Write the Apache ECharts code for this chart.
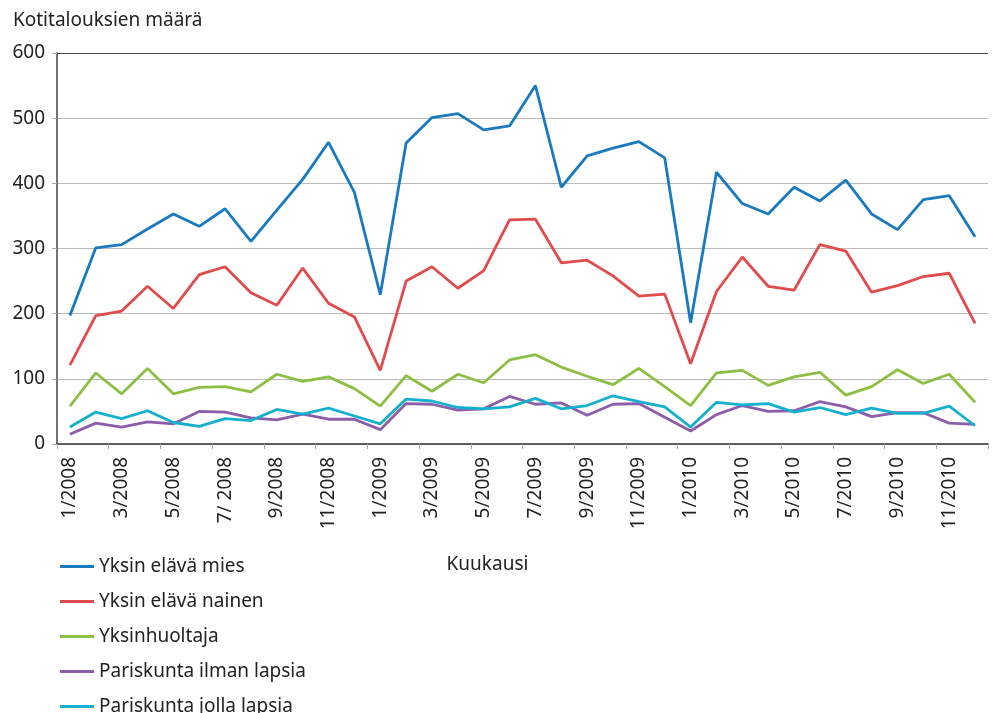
<!DOCTYPE html>
<html lang="fi">
<head>
  <meta charset="utf-8">
  <title>Kotitalouksien määrä</title>
  <style>
    html, body { margin: 0; padding: 0; background: #fff; }
    #chart { width: 992px; height: 713px; }
  </style>
</head>
<body>
  <div id="chart"></div>
  <script src="https://cdn.jsdelivr.net/npm/echarts@6/dist/echarts.min.js"></script>
  <script>
    // kuukaudet 1/2008 - 12/2010
    var months = [
      '1/2008', '2/2008', '3/2008', '4/2008', '5/2008', '6/2008', '7/ 2008', '8/2008', '9/2008', '10/2008', '11/2008', '12/2008',
      '1/2009', '2/2009', '3/2009', '4/2009', '5/2009', '6/2009', '7/2009', '8/2009', '9/2009', '10/2009', '11/2009', '12/2009',
      '1/2010', '2/2010', '3/2010', '4/2010', '5/2010', '6/2010', '7/2010', '8/2010', '9/2010', '10/2010', '11/2010', '12/2010'
    ];

    var yksinMies = [197, 301, 306, 330, 353, 334, 361, 311, 359, 406, 463, 386,
      229, 462, 501, 507, 482, 488, 550, 394, 442, 454, 464, 439,
      186, 417, 369, 353, 394, 373, 405, 353, 329, 375, 381, 318];
    var yksinNainen = [121, 197, 204, 242, 208, 260, 272, 232, 213, 270, 216, 195,
      113, 250, 272, 239, 266, 344, 345, 278, 282, 258, 227, 230,
      123, 234, 287, 242, 236, 306, 296, 233, 243, 257, 262, 185];
    var yksinhuoltaja = [58, 109, 77, 116, 77, 87, 88, 80, 107, 96, 103, 85,
      58, 105, 81, 107, 94, 129, 137, 118, 104, 91, 116, 88,
      59, 109, 113, 90, 103, 110, 75, 88, 114, 93, 107, 64];
    var pariIlman = [15, 32, 26, 34, 31, 50, 49, 40, 37, 46, 38, 38,
      22, 62, 61, 52, 54, 73, 61, 63, 44, 61, 62, 41,
      20, 45, 59, 50, 51, 65, 57, 42, 48, 48, 32, 30];
    var pariJolla = [26, 49, 39, 51, 33, 27, 39, 36, 53, 46, 55, 43,
      31, 69, 66, 56, 54, 57, 70, 54, 59, 74, 65, 57,
      26, 64, 60, 62, 49, 56, 45, 55, 47, 47, 58, 28];

    var yTicks = [0, 100, 200, 300, 400, 500, 600];

    var seriesNames = ['Yksin elävä mies', 'Yksin elävä nainen', 'Yksinhuoltaja',
      'Pariskunta ilman lapsia', 'Pariskunta jolla lapsia'];
    var seriesData = [yksinMies, yksinNainen, yksinhuoltaja, pariIlman, pariJolla];
    var colors = ['#1a7abf', '#e14b4b', '#8cbf44', '#8c5ea9', '#14b0cd'];

    var font = 'Noto Sans';
    var myChart = echarts.init(document.getElementById('chart'));

    var series = [];
    for (var i = 0; i < seriesNames.length; i++) {
      series.push({
        name: seriesNames[i],
        type: 'line',
        data: seriesData[i],
        symbol: 'none',
        lineStyle: { width: 2.8, color: colors[i] },
        itemStyle: { color: colors[i] }
      });
    }

    var option = {
      animation: false,
      color: colors,
      textStyle: { fontFamily: font },
      title: {
        text: 'Kotitalouksien määrä',
        left: 8,
        top: 6,
        textStyle: { fontFamily: font, fontSize: 19, fontWeight: 'normal', color: '#222' }
      },
      legend: {
        orient: 'vertical',
        left: 60,
        top: 557,
        height: 300,
        padding: 0,
        icon: 'rect',
        itemWidth: 34,
        itemHeight: 3,
        itemGap: 16,
        textStyle: { fontFamily: font, fontSize: 19, color: '#222' },
        data: seriesNames
      },
      grid: {
        left: 57,
        right: 4,
        top: 53,
        bottom: 269,
        containLabel: false
      },
      xAxis: {
        type: 'category',
        data: months,
        boundaryGap: true,
        name: 'Kuukausi',
        nameLocation: 'middle',
        nameGap: 111,
        nameTextStyle: { fontFamily: font, fontSize: 19, color: '#222', padding: [0, 70, 0, 0] },
        axisLine: { lineStyle: { color: '#333', width: 1.5 } },
        axisTick: { show: true, length: 5, lineStyle: { color: '#aaa' } },
        axisLabel: {
          interval: 1,
          rotate: 90,
          margin: 13,
          fontFamily: font,
          fontSize: 19,
          color: '#222'
        },
        splitLine: { show: false }
      },
      yAxis: {
        type: 'value',
        min: yTicks[0],
        max: yTicks[yTicks.length - 1],
        interval: 100,
        axisLine: { show: true, lineStyle: { color: '#444', width: 1.5 } },
        axisTick: { show: true, length: 5, lineStyle: { color: '#aaa' } },
        axisLabel: { margin: 12, fontFamily: font, fontSize: 19, color: '#222' },
        splitLine: {
          lineStyle: { color: ['#bbb', '#bbb', '#bbb', '#bbb', '#bbb', '#bbb', '#444'], width: 1.2 }
        }
      },
      series: series
    };
    myChart.setOption(option);
  </script>
</body>
</html>
